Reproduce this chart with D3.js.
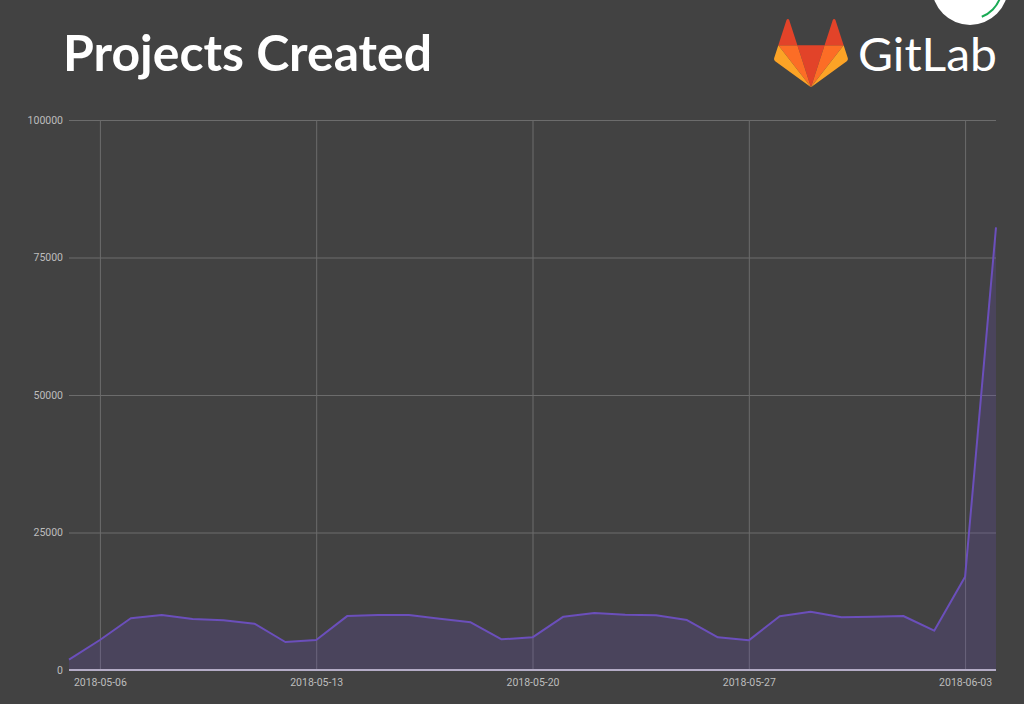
<!DOCTYPE html>
<html>
<head>
<meta charset="utf-8">
<script src="https://cdn.jsdelivr.net/npm/d3@7"></script>
<style>
  html, body { margin: 0; padding: 0; background: #424242; }
  svg { display: block; }
</style>
</head>
<body>
<svg id="chart" width="1024" height="704"></svg>
<script>
const dates = ["2018-05-05","2018-05-06","2018-05-07","2018-05-08","2018-05-09","2018-05-10","2018-05-11",
  "2018-05-12","2018-05-13","2018-05-14","2018-05-15","2018-05-16","2018-05-17","2018-05-18",
  "2018-05-19","2018-05-20","2018-05-21","2018-05-22","2018-05-23","2018-05-24","2018-05-25",
  "2018-05-26","2018-05-27","2018-05-28","2018-05-29","2018-05-30","2018-05-31","2018-06-01",
  "2018-06-02","2018-06-03","2018-06-04"];
const projects = [1900, 5450, 9400, 10000, 9270, 9040, 8420,
  5090, 5450, 9800, 10000, 10000, 9330, 8670,
  5580, 5940, 9700, 10360, 10060, 9940, 9090,
  5940, 5390, 9760, 10600, 9580, 9700, 9820,
  7150, 16970, 80490];
const xTickLabels = ["2018-05-06","2018-05-13","2018-05-20","2018-05-27","2018-06-03"];
const yTicks = [0, 25000, 50000, 75000, 100000];
const title = "Projects Created";
const brand = "GitLab";

(function () {
const parse = d3.utcParse("%Y-%m-%d");
const data = dates.map((d, i) => ({ date: parse(d), value: projects[i] }));

const svg = d3.select("#chart");
const mLeft = 69, mRight = 996, mTop = 120, mBottom = 670;

const x = d3.scaleUtc().domain([parse(dates[0]), parse(dates[dates.length - 1])]).range([mLeft, mRight]);
const y = d3.scaleLinear().domain([0, 100000]).range([mBottom, mTop]);

svg.append("rect").attr("width", 1024).attr("height", 704).attr("fill", "#424242");

// horizontal grid + y labels
svg.append("g")
  .attr("transform", `translate(${mLeft},0)`)
  .call(d3.axisLeft(y).tickValues(yTicks).tickSize(-(mRight - mLeft)).tickFormat(d => d))
  .call(g => g.select(".domain").remove())
  .call(g => g.selectAll(".tick line").attr("stroke", "#6c6c6c").attr("stroke-width", 1))
  .call(g => g.selectAll(".tick text").attr("fill", "#bdbdbd").attr("x", -6)
      .style("font-family", "Roboto, sans-serif").style("font-size", "10.5px"));

// vertical grid + x labels
svg.append("g")
  .attr("transform", `translate(0,${mBottom})`)
  .call(d3.axisBottom(x).tickValues(xTickLabels.map(parse)).tickSize(-(mBottom - mTop))
      .tickFormat(d3.utcFormat("%Y-%m-%d")))
  .call(g => g.select(".domain").remove())
  .call(g => g.selectAll(".tick line").attr("stroke", "#6c6c6c").attr("stroke-width", 1))
  .call(g => g.selectAll(".tick text").attr("fill", "#bdbdbd").attr("y", 9)
      .style("font-family", "Roboto, sans-serif").style("font-size", "10.5px"));

// area
const area = d3.area().x(d => x(d.date)).y0(y(0)).y1(d => y(d.value));
svg.append("path").datum(data).attr("d", area).attr("fill", "#6b4fbb").attr("fill-opacity", 0.22);

// line
const line = d3.line().x(d => x(d.date)).y(d => y(d.value));
svg.append("path").datum(data).attr("d", line).attr("fill", "none")
  .attr("stroke", "#6b4fbb").attr("stroke-width", 2).attr("stroke-linejoin", "round");

// baseline axis
svg.append("line").attr("x1", mLeft).attr("x2", mRight).attr("y1", y(0)).attr("y2", y(0))
  .attr("stroke", "#b4acc6").attr("stroke-width", 2);

// title
svg.append("text").attr("x", 63).attr("y", 71).text(title)
  .attr("fill", "#ffffff").style("font-family", "Lato, sans-serif").style("font-weight", 700)
  .style("font-size", "49px").attr("textLength", 369).attr("lengthAdjust", "spacingAndGlyphs");

// GitLab logo
const logo = svg.append("g").attr("transform", "translate(774,19) scale(0.352)");
const logoParts = [
  ["M105.0614 193.655L143.7014 74.734H66.4214z", "#e24329"],
  ["M105.0614 193.655L66.4214 74.734H12.2684z", "#fc6d26"],
  ["M12.2685 74.7341L.5265 110.8731c-1.071 3.296.102 6.907 2.906 8.944l101.629 73.838z", "#fca326"],
  ["M12.2685 74.7342H66.4215L43.1485 3.1092c-1.197-3.686-6.411-3.685-7.608 0z", "#e24329"],
  ["M105.0614 193.655l38.64-118.921h54.153z", "#fc6d26"],
  ["M197.8544 74.7341l11.742 36.139c1.071 3.296-.102 6.907-2.906 8.944l-101.629 73.838z", "#fca326"],
  ["M197.8544 74.7342H143.7014l23.273-71.625c1.197-3.686 6.411-3.685 7.608 0z", "#e24329"]
];
logo.selectAll("path").data(logoParts).join("path").attr("d", d => d[0]).attr("fill", d => d[1]);

svg.append("text").attr("x", 858).attr("y", 71).text(brand)
  .attr("fill", "#ffffff").style("font-family", "Lato, sans-serif").style("font-weight", 400)
  .style("font-size", "47px").attr("textLength", 139).attr("lengthAdjust", "spacingAndGlyphs");

// top-right badge
svg.append("circle").attr("cx", 970).attr("cy", -13).attr("r", 38).attr("fill", "#ffffff");
svg.append("path").attr("transform", "translate(970,-13)")
  .attr("d", d3.arc()({ innerRadius: 31, outerRadius: 33, startAngle: Math.PI * 0.35, endAngle: Math.PI * 0.88 }))
  .attr("fill", "#1aaa55");
})();
</script>
</body>
</html>
